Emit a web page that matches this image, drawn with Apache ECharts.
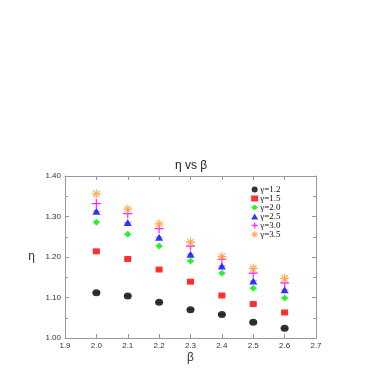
<!DOCTYPE html>
<html><head><meta charset="utf-8">
<script src="https://cdn.jsdelivr.net/npm/echarts@6/dist/echarts.min.js"></script>
<style>html,body{margin:0;padding:0;background:#fff}#c{width:382px;height:382px}</style>
</head><body><div id="c"></div>
<script>
const betas = [2.0, 2.1, 2.2, 2.3, 2.4, 2.5, 2.6];
const g12 = [1.112, 1.104, 1.088, 1.070, 1.058, 1.039, 1.024];
const g15 = [1.214, 1.195, 1.169, 1.139, 1.105, 1.084, 1.063];
const g20 = [1.286, 1.256, 1.227, 1.190, 1.160, 1.123, 1.099];
const g25 = [1.313, 1.285, 1.249, 1.207, 1.178, 1.141, 1.119];
const g30 = [1.332, 1.307, 1.270, 1.227, 1.194, 1.160, 1.136];
const g35 = [1.356, 1.318, 1.282, 1.237, 1.201, 1.172, 1.147];
const xErr = 0.012;
const xTicks = ['1.9','2.0','2.1','2.2','2.3','2.4','2.5','2.6','2.7'];
const yTicks = ['1.00','1.10','1.20','1.30','1.40'];
const names = ['γ=1.2','γ=1.5','γ=2.0','γ=2.5','γ=3.0','γ=3.5'];
const values = [g12, g15, g20, g25, g30, g35];
const colors = ['#000000','#ff0000','#00ee00','#0000ff','#ff00ff','#ffa040'];
const barColors = ['rgba(0,0,0,0.35)','rgba(255,0,0,0.3)','rgba(0,200,0,0.3)','rgba(0,0,255,0.3)','rgba(255,0,255,0.3)','rgba(255,160,64,0.35)'];
const plusPath = 'path://M5,0L5,10M0,5L10,5';
const starPath = 'path://M5,0L5,10M0,5L10,5M1.5,1.5L8.5,8.5M8.5,1.5L1.5,8.5';
const symbols = ['circle','rect','diamond','triangle',plusPath,starPath];
const sizes = [[8,7],[7,6],[7,7],[8,7],[9,9],[9,9]];

const chart = echarts.init(document.getElementById('c'));
const series = [];
const legendData = [];
values.forEach((vals, i) => {
  series.push({
    type: 'custom', silent: true, z: 1,
    data: betas.map((b, j) => [b, vals[j]]),
    renderItem: (params, api) => {
      const p1 = api.coord([api.value(0) - xErr, api.value(1)]);
      const p2 = api.coord([api.value(0) + xErr, api.value(1)]);
      return {type: 'line', shape: {x1: p1[0], y1: p1[1], x2: p2[0], y2: p2[1]},
        style: {stroke: barColors[i], lineWidth: 1.2}};
    }
  });
  const stroked = i >= 4;
  const style = stroked ? {color: 'rgba(0,0,0,0)', borderColor: colors[i], borderWidth: 1.3} : {color: colors[i], borderWidth: 0};
  series.push({
    name: names[i], type: 'scatter', z: 3,
    symbol: symbols[i], symbolSize: sizes[i],
    data: betas.map((b, j) => [b, vals[j]]),
    itemStyle: style
  });
  legendData.push({name: names[i], icon: symbols[i], itemStyle: style});
});

const xLab = v => { const s = v.toFixed(1); return xTicks.includes(s) ? s : ''; };
const yLab = v => { const s = v.toFixed(2); return yTicks.includes(s) ? s : ''; };

chart.setOption({
  animation: false,
  backgroundColor: '#fff',
  title: {text: 'η vs β', left: 'center', top: 155, textStyle: {fontSize: 12, fontWeight: 'normal', color: '#222', fontFamily: 'Liberation Sans'}},
  grid: {left: 65, right: 66, top: 176, bottom: 44},
  legend: {
    orient: 'vertical', left: 251, top: 185, itemWidth: 7, itemHeight: 6, itemGap: 0, padding: [0,0,0,0],
    data: legendData,
    textStyle: {fontFamily: 'Liberation Serif', fontSize: 9, lineHeight: 8.6, color: '#111', padding: [0,0,0,-3]}
  },
  xAxis: [{
    type: 'value', min: 1.9, max: 2.7, interval: 0.1,
    name: 'β', nameLocation: 'middle', nameGap: 14,
    nameTextStyle: {fontSize: 12, color: '#333', fontFamily: 'Liberation Sans'},
    axisLine: {show: true, lineStyle: {color: '#999', width: 1}},
    axisTick: {inside: true, length: 4, lineStyle: {color: '#999'}},
    axisLabel: {formatter: xLab, fontSize: 8, color: '#333', margin: 4, fontFamily: 'Liberation Sans'},
    splitLine: {show: false}
  }, {
    type: 'value', min: 1.9, max: 2.7, interval: 0.1, position: 'top',
    axisLine: {show: true, lineStyle: {color: '#999'}},
    axisTick: {inside: true, length: 4, lineStyle: {color: '#999'}},
    axisLabel: {show: false}, splitLine: {show: false}
  }],
  yAxis: [{
    type: 'value', min: 1.0, max: 1.4, interval: 0.1,
    name: 'η', nameLocation: 'middle', nameGap: 30, nameRotate: 0,
    nameTextStyle: {fontSize: 12, color: '#333', fontFamily: 'Liberation Sans'},
    axisLine: {show: true, lineStyle: {color: '#999', width: 1}},
    axisTick: {inside: true, length: 4, lineStyle: {color: '#999'}},
    minorTick: {show: true, splitNumber: 2, length: 3, lineStyle: {color: '#999'}},
    axisLabel: {formatter: yLab, fontSize: 8, color: '#333', margin: 4, fontFamily: 'Liberation Sans'},
    splitLine: {show: false}
  }, {
    type: 'value', min: 1.0, max: 1.4, interval: 0.1, position: 'right',
    axisLine: {show: true, lineStyle: {color: '#999'}},
    axisTick: {inside: true, length: 4, lineStyle: {color: '#999'}},
    minorTick: {show: true, splitNumber: 2, length: 3, lineStyle: {color: '#999'}},
    axisLabel: {show: false}, splitLine: {show: false}
  }],
  series: series
});
</script></body></html>
